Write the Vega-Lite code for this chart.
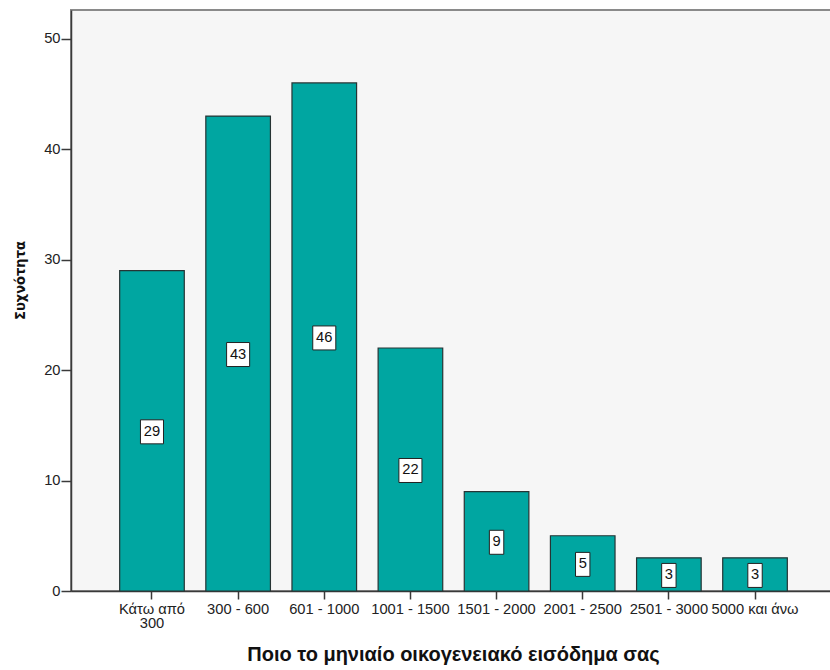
{
  "$schema": "https://vega.github.io/schema/vega-lite/v6.json",
  "width": 765,
  "height": 581,
  "autosize": {"type": "none"},
  "padding": {"left": 71, "top": 10, "right": 0, "bottom": 79},
  "background": "white",
  "config": {
    "font": "Liberation Sans",
    "view": {"fill": "#f6f6f6", "stroke": "#8a8a8a", "strokeWidth": 2},
    "axis": {
      "domainColor": "#3a3a3a",
      "domainWidth": 1.5,
      "tickColor": "#3a3a3a",
      "tickWidth": 1.5,
      "labelColor": "#222222",
      "labelFont": "Liberation Sans",
      "labelFontSize": 14.7,
      "titleFont": "Liberation Sans",
      "titleFontWeight": "bold",
      "titleColor": "#111111",
      "grid": false
    }
  },
  "data": {
    "values": [
      {"income": "Κάτω από 300", "n": 29},
      {"income": "300 - 600", "n": 43},
      {"income": "601 - 1000", "n": 46},
      {"income": "1001 - 1500", "n": 22},
      {"income": "1501 - 2000", "n": 9},
      {"income": "2001 - 2500", "n": 5},
      {"income": "2501 - 3000", "n": 3},
      {"income": "5000 και άνω", "n": 3}
    ]
  },
  "transform": [{"calculate": "datum.n / 2", "as": "mid"}],
  "encoding": {
    "x": {
      "field": "income",
      "type": "nominal",
      "sort": null,
      "scale": {"paddingInner": 0.25, "paddingOuter": 0.565},
      "axis": {
        "title": "Ποιο το μηνιαίο οικογενειακό εισόδημα σας",
        "titleFontSize": 20,
        "labelAngle": 0,
        "labelOverlap": false,
        "labelBound": false,
        "labelPadding": 2,
        "labelLineHeight": 14,
        "tickSize": 8,
        "titlePadding": 15,
        "titleX": 382,
        "labelExpr": "datum.label == 'Κάτω από 300' ? ['Κάτω από', '300'] : datum.label"
      }
    }
  },
  "layer": [
    {
      "mark": {"type": "bar", "fill": "#00a6a1", "stroke": "#263434", "strokeWidth": 1.2},
      "encoding": {
        "y": {
          "field": "n",
          "type": "quantitative",
          "scale": {"domain": [0, 52.6], "nice": false, "zero": true},
          "axis": {
            "title": "Συχνότητα",
            "titleFont": "Liberation Sans Narrow, DejaVu Sans Condensed, Liberation Sans",
            "titleFontSize": 14.5,
            "values": [0, 10, 20, 30, 40, 50],
            "tickSize": 10,
            "labelPadding": 1,
            "titleX": -51,
            "titleY": 270,
            "titleAlign": "center",
            "titleBaseline": "middle",
            "titleAngle": -90
          }
        }
      }
    },
    {
      "mark": {"type": "point", "filled": true, "fill": "white", "stroke": "#222222", "strokeWidth": 1, "opacity": 1, "size": 576, "yOffset": 1},
      "encoding": {
        "y": {"field": "mid", "type": "quantitative"},
        "shape": {
          "condition": {"test": "datum.n < 10", "value": "M-0.6,-1H0.6V1H-0.6Z"},
          "value": "M-0.96,-1H0.96V1H-0.96Z"
        }
      }
    },
    {
      "mark": {"type": "text", "fontSize": 14.7, "font": "Liberation Sans", "color": "#111111", "baseline": "middle", "align": "center", "yOffset": 1},
      "encoding": {
        "y": {"field": "mid", "type": "quantitative"},
        "text": {"field": "n", "type": "quantitative"}
      }
    }
  ]
}
